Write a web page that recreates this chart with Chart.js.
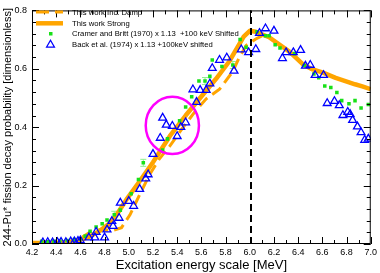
<!DOCTYPE html>
<html><head><meta charset="utf-8">
<script src="https://cdn.jsdelivr.net/npm/chart.js@4/dist/chart.umd.min.js"></script>
<style>html,body{margin:0;padding:0;background:#fff}#wrap{width:380px;height:273px}</style>
</head><body><div id="wrap"><canvas id="c" width="380" height="273"></canvas></div>
<script>
// ---- data ----
const dampE = [4.2,4.5,4.58,4.64,4.68,4.76,4.87,4.94,5.01,5.09,5.17,5.25,5.34,5.45,5.55,5.64,5.75,5.86,5.91,5.97,6.05,6.10,6.16,6.33,6.44,6.52,6.6,6.71,6.79,6.87,6.93,7.0];
const dampP = [0.003,0.006,0.015,0.03,0.041,0.049,0.047,0.056,0.10,0.169,0.236,0.29,0.336,0.40,0.455,0.497,0.53,0.591,0.636,0.68,0.702,0.713,0.708,0.658,0.615,0.598,0.588,0.569,0.558,0.547,0.54,0.53];
const strongE = [4.2,4.4,4.5,4.57,4.63,4.68,4.76,4.84,4.9,4.98,5.09,5.2,5.34,5.47,5.6,5.72,5.83,5.95,6.0,6.05,6.16,6.33,6.44,6.52,6.6,6.71,6.79,6.87,6.93,7.0];
const strongP = [0.003,0.004,0.006,0.012,0.018,0.026,0.045,0.07,0.10,0.152,0.215,0.28,0.37,0.44,0.505,0.565,0.625,0.71,0.73,0.727,0.708,0.658,0.615,0.598,0.588,0.569,0.558,0.547,0.54,0.53];
const cramerE = [4.28,4.33,4.38,4.43,4.49,4.55,4.60,4.64,4.68,4.73,4.78,4.82,4.88,4.93,5.02,5.08,5.12,5.28,5.32,5.42,5.47,5.52,5.58,5.63,5.67,5.69,5.77,5.86,5.92,5.97,6.06,6.13,6.16,6.21,6.25,6.37,6.45,6.53,6.57,6.62,6.67,6.72,6.76,6.82,6.87,6.92,6.98];
const cramerP = [0.009,0.008,0.009,0.010,0.012,0.015,0.018,0.027,0.044,0.058,0.069,0.082,0.10,0.116,0.172,0.221,0.278,0.322,0.36,0.422,0.469,0.504,0.558,0.558,0.574,0.63,0.608,0.613,0.70,0.674,0.727,0.713,0.713,0.682,0.671,0.652,0.611,0.582,0.569,0.541,0.536,0.519,0.491,0.48,0.491,0.466,0.478];
const cramerErr = [0,0,0,0,0,0,0,0,0,0,0,0,0.012,0,0,0,0.012,0,0,0,0,0,0,0.012,0,0,0,0.012,0,0,0,0,0,0,0,0,0,0,0,0,0,0,0,0,0,0,0];
const backE = [4.29,4.33,4.37,4.41,4.44,4.48,4.52,4.55,4.58,4.60,4.67,4.72,4.73,4.80,4.82,4.86,4.87,4.92,4.93,5.00,5.04,5.09,5.14,5.16,5.20,5.26,5.28,5.31,5.36,5.40,5.43,5.47,5.53,5.56,5.59,5.64,5.67,5.69,5.75,5.81,5.87,5.93,5.99,6.05,6.08,6.13,6.20,6.27,6.30,6.36,6.42,6.46,6.50,6.54,6.61,6.64,6.70,6.74,6.77,6.81,6.83,6.85,6.89,6.92,6.95,6.98];
const backP = [0.005,0.006,0.005,0.006,0.007,0.006,0.008,0.008,0.010,0.012,0.022,0.022,0.041,0.022,0.049,0.078,0.061,0.089,0.141,0.147,0.130,0.188,0.224,0.238,0.308,0.363,0.432,0.408,0.404,0.369,0.400,0.416,0.529,0.486,0.527,0.527,0.549,0.602,0.630,0.638,0.593,0.666,0.656,0.667,0.722,0.738,0.730,0.636,0.656,0.656,0.664,0.610,0.613,0.578,0.578,0.482,0.489,0.475,0.441,0.452,0.444,0.424,0.402,0.382,0.356,0.360];
const xTickValues = [4.2,4.4,4.6,4.8,5.0,5.2,5.4,5.6,5.8,6.0,6.2,6.4,6.6,6.8,7.0];
const yTickValues = [0.0,0.2,0.4,0.6,0.8];
const markerE = 6.01;
const ellipseCenter = [5.36, 0.406];
const ellipseRadii = [0.22, 0.098];

const labels = ["This work Inc. Damp","This work Strong","Cramer and Britt (1970) x 1.13  +100 keV Shifted","Back et al. (1974) x 1.13 +100keV shifted"];
const ORANGE = '#ffa500', GREEN = '#18e018', BLUE = '#0000ff';
const zip = (a,b) => a.map((v,i)=>({x:v,y:b[i]}));

const decoPlugin = {
  id:'deco',
  beforeDatasetsDraw(chart){
    const ctx = chart.ctx, xs = chart.scales.x, ys = chart.scales.y;
    ctx.save();
    ctx.strokeStyle = '#8fef8f'; ctx.lineWidth = 1;
    cramerE.forEach((e,i)=>{
      const er = cramerErr[i]; if(!er) return;
      const px = xs.getPixelForValue(e), y1 = ys.getPixelForValue(cramerP[i]-er), y2 = ys.getPixelForValue(cramerP[i]+er);
      ctx.beginPath();
      ctx.moveTo(px,y1); ctx.lineTo(px,y2);
      ctx.moveTo(px-3,y1); ctx.lineTo(px+3,y1);
      ctx.moveTo(px-3,y2); ctx.lineTo(px+3,y2);
      ctx.stroke();
    });
    ctx.restore();
  },
  afterDatasetsDraw(chart){
    const ctx = chart.ctx, xs = chart.scales.x, ys = chart.scales.y, a = chart.chartArea;
    ctx.save();
    const mx = Math.round(xs.getPixelForValue(markerE));
    ctx.strokeStyle = '#000'; ctx.lineWidth = 2; ctx.setLineDash([7,4]);
    ctx.beginPath(); ctx.moveTo(mx,a.bottom); ctx.lineTo(mx,a.top); ctx.stroke();
    ctx.setLineDash([]);
    const cx = xs.getPixelForValue(ellipseCenter[0]), cy = ys.getPixelForValue(ellipseCenter[1]);
    const rx = Math.abs(xs.getPixelForValue(ellipseCenter[0]+ellipseRadii[0]) - cx);
    const ry = Math.abs(ys.getPixelForValue(ellipseCenter[1]+ellipseRadii[1]) - cy);
    ctx.strokeStyle = '#ff00ff'; ctx.lineWidth = 2.5;
    ctx.beginPath(); ctx.ellipse(cx,cy,rx,ry,0,0,Math.PI*2); ctx.stroke();
    ctx.strokeStyle = '#000'; ctx.lineWidth = 1;
    ctx.strokeRect(a.left+0.5,a.top+0.5,a.right-a.left-1,a.bottom-a.top-1);
    ctx.beginPath();
    for(let i=0;i<=28;i++){
      const v = 4.2 + i*0.1; const px = Math.round(xs.getPixelForValue(v))+0.5;
      const L = i%2===0 ? 7 : 4;
      ctx.moveTo(px,a.bottom); ctx.lineTo(px,a.bottom-L);
      ctx.moveTo(px,a.top); ctx.lineTo(px,a.top+L);
    }
    for(let i=0;i<=20;i++){
      const v = i*0.04; const py = Math.round(ys.getPixelForValue(v))+0.5;
      const L = i%5===0 ? 7 : 4;
      ctx.moveTo(a.left,py); ctx.lineTo(a.left+L,py);
      ctx.moveTo(a.right,py); ctx.lineTo(a.right-L,py);
    }
    ctx.stroke();
    const rows = [12,23.3,33.5,44];
    const x0 = 36, x1 = 63, tx = 72;
    ctx.font = '7.7px "Liberation Sans", Arial, sans-serif';
    ctx.textBaseline = 'middle'; ctx.fillStyle = '#000';
    chart.data.datasets.forEach((ds,i)=>{
      const y = rows[i];
      if(i===0){ ctx.strokeStyle = ORANGE; ctx.lineWidth = 3; ctx.setLineDash([13,6]); ctx.beginPath(); ctx.moveTo(x0,y); ctx.lineTo(x1,y); ctx.stroke(); ctx.setLineDash([]); }
      if(i===1){ ctx.strokeStyle = ORANGE; ctx.lineWidth = 4.5; ctx.beginPath(); ctx.moveTo(x0,y); ctx.lineTo(x1,y); ctx.stroke(); }
      if(i===2){ ctx.fillStyle = GREEN; ctx.fillRect(49,y-1.5,3.5,3.5); }
      if(i===3){ ctx.strokeStyle = BLUE; ctx.lineWidth = 1.3; const r=4.5, cxx=50.5, cyy=y+0.8; ctx.beginPath(); ctx.moveTo(cxx,cyy-r); ctx.lineTo(cxx+r*0.866,cyy+r/2); ctx.lineTo(cxx-r*0.866,cyy+r/2); ctx.closePath(); ctx.stroke(); }
      ctx.fillStyle = '#000';
      ctx.fillText(ds.label, tx, y+0.5);
    });
    ctx.restore();
  }
};

new Chart(document.getElementById('c'), {
  type:'scatter',
  data:{ datasets:[
    {label:labels[0], data:zip(dampE,dampP), showLine:true, borderColor:ORANGE, borderWidth:3, borderDash:[11,6], pointRadius:0, fill:false, order:3},
    {label:labels[1], data:zip(strongE,strongP), showLine:true, borderColor:ORANGE, borderWidth:4.5, pointRadius:0, fill:false, order:2, borderJoinStyle:'round'},
    {label:labels[2], data:zip(cramerE,cramerP), showLine:false, pointStyle:'rect', pointRadius:2.5, backgroundColor:GREEN, borderColor:GREEN, borderWidth:0, order:1},
    {label:labels[3], data:zip(backE,backP), showLine:false, pointStyle:'triangle', pointRadius:4.5, backgroundColor:'rgba(0,0,0,0)', borderColor:BLUE, borderWidth:1.3, order:0}
  ]},
  options:{
    responsive:false, animation:false, devicePixelRatio:1,
    layout:{padding:{top:4,right:8,left:0,bottom:0}},
    plugins:{legend:{display:false}, tooltip:{enabled:false}},
    scales:{
      x:{type:'linear', min:4.2, max:7.0,
        afterBuildTicks(s){ s.ticks = xTickValues.map(v=>({value:v})); },
        afterFit(s){ s.height = 29; },
        grid:{display:false, drawTicks:false}, border:{display:false},
        ticks:{padding:3, color:'#000', font:{family:'"Liberation Sans", Arial, sans-serif', size:9}, maxRotation:0, autoSkip:false, callback:v=>Number(v).toFixed(1)},
        title:{display:true, text:'Excitation energy scale [MeV]', color:'#000', font:{family:'"Liberation Sans", Arial, sans-serif', size:13}, padding:{top:0,bottom:0}}
      },
      y:{type:'linear', min:0, max:0.8,
        afterBuildTicks(s){ s.ticks = yTickValues.map(v=>({value:v})); },
        afterFit(s){ s.width = 32; },
        grid:{display:false, drawTicks:false}, border:{display:false},
        ticks:{padding:5, color:'#000', font:{family:'"Liberation Sans", Arial, sans-serif', size:9}, autoSkip:false, callback:v=>Number(v).toFixed(1)},
        title:{display:true, text:'244-Pu* fission decay probability [dimensionless]', color:'#000', font:{family:'"Liberation Sans", Arial, sans-serif', size:11}, padding:{top:1,bottom:0}}
      }
    }
  },
  plugins:[decoPlugin]
});
</script></body></html>
